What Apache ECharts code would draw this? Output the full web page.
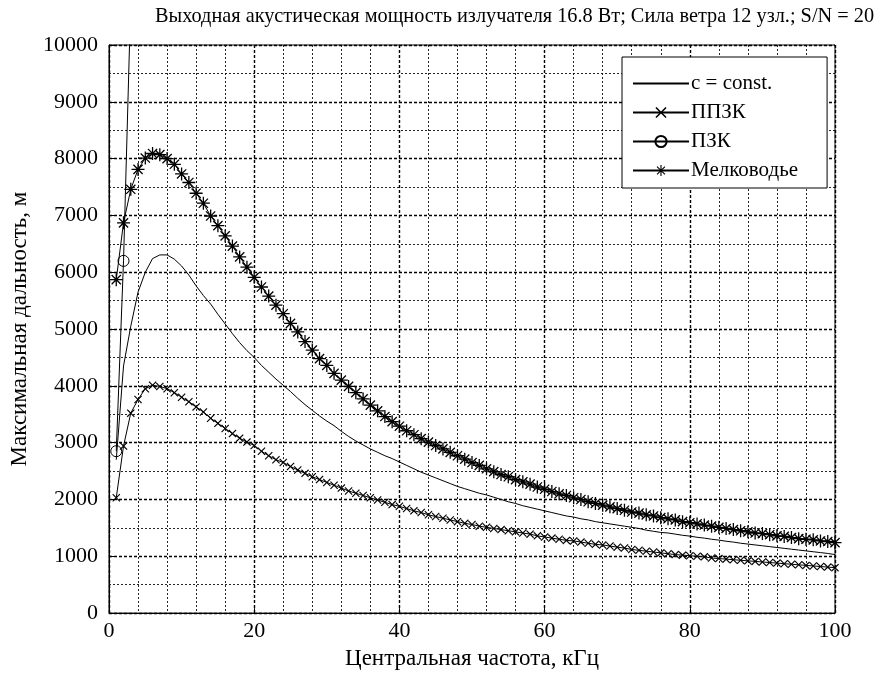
<!DOCTYPE html>
<html>
<head>
<meta charset="utf-8">
<script src="https://cdn.jsdelivr.net/npm/echarts@6/dist/echarts.min.js"></script>
<style>
  html, body { margin: 0; padding: 0; background: #fff; }
  #chart { width: 879px; height: 675px; }
</style>
</head>
<body>
<div id="chart"></div>
<script>
// Центральные частоты, кГц (шаг расчёта 1 кГц)
const freqs = Array.from({ length: 100 }, (_, i) => i + 1);

// c = const
const constValues = [
  2700, 4350, 5050, 5650, 6000, 6240, 6305, 6305, 6230, 6110,
  5950, 5760, 5590, 5440, 5260, 5090, 4920, 4760, 4620, 4500,
  4360, 4240, 4120, 4010, 3900, 3780, 3670, 3570, 3470, 3380,
  3300, 3200, 3110, 3030, 2960, 2890, 2830, 2770, 2720, 2660,
  2600, 2540, 2480, 2430, 2380, 2330, 2280, 2230, 2190, 2150,
  2110, 2080, 2040, 2000, 1960, 1930, 1890, 1860, 1830, 1800,
  1770, 1740, 1710, 1690, 1660, 1640, 1610, 1590, 1570, 1550,
  1530, 1510, 1490, 1460, 1440, 1420, 1410, 1390, 1370, 1355,
  1335, 1320, 1300, 1285, 1265, 1250, 1230, 1215, 1200, 1185,
  1170, 1155, 1140, 1125, 1110, 1095, 1080, 1065, 1050, 1030
];

// ППЗК
const ppzkValues = [
  2030, 2940, 3520, 3760, 3950, 4010, 3990, 3950, 3880, 3800,
  3720, 3630, 3540, 3430, 3340, 3250, 3160, 3080, 3010, 2950,
  2850, 2770, 2700, 2650, 2580, 2520, 2460, 2400, 2350, 2300,
  2250, 2200, 2150, 2110, 2070, 2030, 1990, 1950, 1910, 1880,
  1840, 1800, 1770, 1730, 1700, 1670, 1640, 1610, 1580, 1560,
  1530, 1510, 1490, 1470, 1450, 1430, 1410, 1390, 1360, 1340,
  1320, 1300, 1280, 1270, 1250, 1230, 1210, 1200, 1180, 1160,
  1145, 1120, 1105, 1090, 1075, 1060, 1045, 1030, 1020, 1010,
  1000, 990, 970, 960, 950, 940, 930, 920, 910, 900,
  890, 880, 870, 860, 850, 840, 830, 820, 810, 800
];

// ПЗК (за пределами 3 кГц дальность выходит за шкалу)
const pzkFreqs = [1, 2, 3];
const pzkValues = [2850, 6200, 10800];

// Мелководье
const shallowValues = [
  5870, 6870, 7460, 7810, 8010, 8090, 8070, 8000, 7900, 7730,
  7580, 7390, 7215, 6990, 6820, 6640, 6460, 6270, 6090, 5910,
  5740, 5580, 5420, 5270, 5100, 4950, 4780, 4630, 4480, 4360,
  4220, 4100, 3990, 3880, 3770, 3660, 3560, 3460, 3370, 3290,
  3210, 3140, 3070, 3010, 2950, 2890, 2830, 2770, 2710, 2650,
  2600, 2540, 2490, 2440, 2400, 2350, 2310, 2270, 2220, 2180,
  2140, 2100, 2070, 2030, 2000, 1960, 1930, 1900, 1870, 1840,
  1810, 1780, 1760, 1730, 1710, 1680, 1660, 1640, 1610, 1590,
  1570, 1550, 1530, 1510, 1490, 1470, 1450, 1430, 1410, 1400,
  1380, 1360, 1350, 1330, 1310, 1300, 1290, 1270, 1260, 1240
];

const xTicks = [0, 20, 40, 60, 80, 100];
const yTicks = [0, 1000, 2000, 3000, 4000, 5000, 6000, 7000, 8000, 9000, 10000];

const titleText = 'Выходная акустическая мощность излучателя 16.8 Вт; Сила ветра 12 узл.; S/N = 20';
const xName = 'Центральная частота, кГц';
const yName = 'Максимальная дальность, м';
const seriesNames = ['c = const.', 'ППЗК', 'ПЗК', 'Мелководье'];

const FONT = '"Liberation Serif", "Times New Roman", serif';

// Маркеры: косой крест и звёздочка (+ и ×), нарисованные контурами
const crossSymbol = 'path://M0,1L1,0L5,4L9,0L10,1L6,5L10,9L9,10L5,6L1,10L0,9L4,5Z';
const starSymbol = 'path://M9,0L11,0L11,20L9,20Z' +
  'M0,9L20,9L20,11L0,11Z' +
  'M2.2,3.6L3.6,2.2L17.8,16.4L16.4,17.8Z' +
  'M16.4,2.2L17.8,3.6L3.6,17.8L2.2,16.4Z';

const pair = (xs, ys) => xs.map((x, i) => [x, ys[i]]);

const majorGrid = { show: true, lineStyle: { color: '#000', width: 1.4, type: [3, 2] } };
const minorGrid = { show: true, lineStyle: { color: '#000', width: 1, type: [2, 2], opacity: 0.85 } };

const chart = echarts.init(document.getElementById('chart'), null, { renderer: 'canvas' });
chart.setOption({
  animation: false,
  backgroundColor: '#fff',
  textStyle: { fontFamily: FONT, color: '#000' },
  title: {
    text: titleText,
    left: 150,
    top: 2,
    textStyle: { fontFamily: FONT, fontSize: 20.3, fontWeight: 'normal', color: '#000' }
  },
  grid: {
    left: 106, top: 45, width: 729, height: 571,
    show: true, borderColor: '#000', borderWidth: 1, backgroundColor: 'transparent'
  },
  legend: {
    orient: 'vertical',
    left: 622, top: 57,
    padding: [16, 29, 7, 10],
    itemWidth: 56, itemHeight: 14, itemGap: 8,
    backgroundColor: '#fff',
    borderColor: '#000', borderWidth: 1, borderRadius: 0,
    textStyle: { fontFamily: FONT, fontSize: 21, color: '#000', padding: [0, 0, 0, -3] },
    data: [
      { name: seriesNames[0], itemStyle: { opacity: 0 } },
      seriesNames[1], seriesNames[2], seriesNames[3]
    ]
  },
  xAxis: {
    type: 'value', min: xTicks[0], max: xTicks[xTicks.length - 1], interval: 20,
    name: xName, nameLocation: 'middle', nameGap: 31,
    nameTextStyle: { fontFamily: FONT, fontSize: 23, color: '#000' },
    axisLine: { show: true, lineStyle: { color: '#000', width: 1 } },
    axisTick: { show: true, inside: true, length: 5, lineStyle: { color: '#000' } },
    axisLabel: { fontFamily: FONT, fontSize: 22, color: '#000', margin: 7 },
    splitLine: majorGrid,
    minorTick: { show: false, splitNumber: 5 },
    minorSplitLine: minorGrid
  },
  yAxis: {
    type: 'value', min: yTicks[0], max: yTicks[yTicks.length - 1], interval: 1000,
    name: yName, nameLocation: 'middle', nameGap: 78,
    nameTextStyle: { fontFamily: FONT, fontSize: 23, color: '#000' },
    axisLine: { show: true, lineStyle: { color: '#000', width: 1 } },
    axisTick: { show: true, inside: true, length: 5, lineStyle: { color: '#000' } },
    axisLabel: { fontFamily: FONT, fontSize: 22, color: '#000', margin: 11,
                 formatter: v => String(v) },
    splitLine: majorGrid,
    minorTick: { show: false, splitNumber: 2 },
    minorSplitLine: minorGrid
  },
  series: [
    {
      name: seriesNames[0], type: 'line', data: pair(freqs, constValues),
      showSymbol: false, symbol: 'none', clip: true,
      lineStyle: { color: '#000', width: 1 }, itemStyle: { color: '#000' }
    },
    {
      name: seriesNames[1], type: 'line', data: pair(freqs, ppzkValues),
      symbol: crossSymbol, symbolSize: 8, showAllSymbol: true, clip: true,
      lineStyle: { color: '#000', width: 1 }, itemStyle: { color: '#000' }
    },
    {
      name: seriesNames[2], type: 'line', data: pair(pzkFreqs, pzkValues),
      symbol: 'circle', symbolSize: 11, showAllSymbol: true, clip: true,
      lineStyle: { color: '#000', width: 1 },
      itemStyle: { color: 'rgba(0,0,0,0)', borderColor: '#000', borderWidth: 1 }
    },
    {
      name: seriesNames[3], type: 'line', data: pair(freqs, shallowValues),
      symbol: starSymbol, symbolSize: 13, showAllSymbol: true, clip: true,
      lineStyle: { color: '#000', width: 1 }, itemStyle: { color: '#000' }
    }
  ]
});
</script>
</body>
</html>
